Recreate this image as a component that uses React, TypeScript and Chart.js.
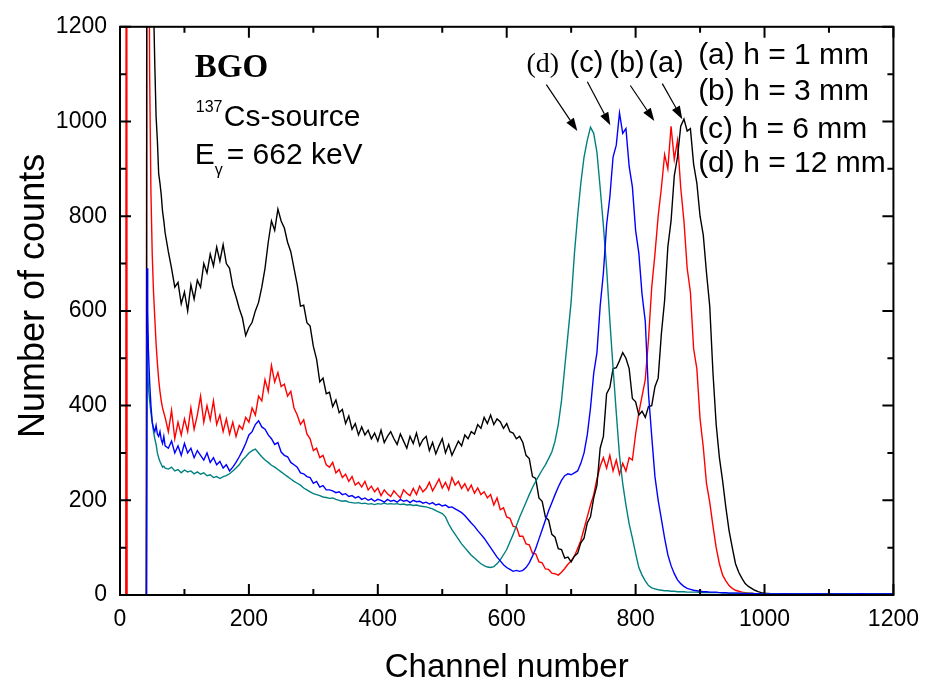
import React, { useEffect, useRef } from "react";
import { Chart, registerables } from "chart.js";

Chart.register(...registerables);

// Channel positions of the sampled points
const channels = [
  0, 5, 9, 10, 11, 15, 20, 25, 30, 35, 40, 41, 42, 43, 44, 46, 48, 50, 52, 54, 56, 58, 60, 62, 64, 66, 68, 70,
  75, 80, 85, 90, 95, 100, 105, 110, 115, 120,
  125, 130, 135, 140, 145, 150, 155, 160, 165, 170,
  175, 180, 185, 190, 195, 200, 205, 210, 215, 220,
  225, 230, 235, 240, 245, 250, 255, 260, 265, 270,
  275, 280, 285, 290, 295, 300, 305, 310, 315, 320,
  325, 330, 335, 340, 345, 350, 355, 360, 365, 370,
  375, 380, 385, 390, 395, 400, 405, 410, 415, 420,
  425, 430, 435, 440, 445, 450, 455, 460, 465, 470,
  475, 480, 485, 490, 495, 500, 505, 510, 515, 520,
  525, 530, 535, 540, 545, 550, 555, 560, 565, 570,
  575, 580, 585, 590, 595, 600, 605, 610, 615, 620,
  625, 630, 635, 640, 645, 650, 655, 660, 665, 670,
  675, 680, 685, 690, 695, 700, 705, 710, 715, 720,
  725, 730, 735, 740, 745, 750, 755, 760, 765, 770,
  775, 780, 785, 790, 795, 800, 805, 810, 815, 820,
  825, 830, 835, 840, 845, 850, 855, 860, 865, 870,
  875, 880, 885, 890, 895, 900, 905, 910, 915, 920,
  925, 930, 935, 940, 945, 950, 955, 960, 965, 970,
  975, 980, 985, 990, 995, 1000,
  1010, 1020, 1030, 1040, 1050, 1060, 1070, 1080, 1090, 1100,
  1110, 1120, 1130, 1140, 1150, 1160, 1170, 1180, 1190, 1200,
];

// (a) h = 1 mm  (black)
const countsA = [
  0, 0, 0, 0, 0, 0, 0, 0, 0, 0, 0, 0, 2500, 2500, 2500, 2500, 2500, 2500, 1250, 1120, 1010, 960, 890, 870, 845, 810, 790, 765,
  725, 690, 650, 660, 615, 640, 600, 655, 625, 665,
  650, 700, 680, 720, 695, 735, 705, 740, 700, 690,
  652, 630, 605, 585, 548, 565, 576, 600, 618, 650,
  690, 745, 790, 770, 815, 790, 775, 745, 725, 690,
  655, 610, 612, 575, 568, 525, 498, 450, 458, 425,
  428, 398, 412, 385, 392, 362, 378, 350, 362, 338,
  355, 338, 348, 330, 342, 325, 348, 322, 335, 345,
  330, 318, 340, 325, 310, 335, 320, 342, 315, 328,
  335, 305, 322, 298, 315, 330, 300, 318, 295, 310,
  325, 315, 338, 330, 345, 340, 360, 352, 375, 362,
  380, 360, 372, 366, 352, 362, 345, 342, 330, 335,
  322, 295, 288, 250, 246, 205, 198, 165, 158, 128,
  122, 98, 96, 78, 80, 70, 82, 88, 110, 120,
  152, 165, 205, 232, 310, 335, 425, 438, 478, 480,
  495, 512, 500, 478, 415, 408, 380, 388, 375, 398,
  400, 440, 458, 552, 622, 735, 790, 885, 925, 990,
  1005, 980, 985, 910, 870, 800, 760, 680, 610, 470,
  360, 290, 241, 185, 136, 100, 66, 48, 35, 24,
  18, 14, 10, 7, 5, 4,
  3, 3, 2, 3, 2, 2, 3, 2, 2, 2, 3, 2, 2, 2, 2, 3, 2, 2, 2, 2,
];

// (b) h = 3 mm  (red)
const countsB = [
  0, 0, 0, 3000, 0, 0, 0, 0, 0, 0, 0, 0, 3000, 2000, 1700, 1100, 850, 720, 640, 585, 530, 490, 455, 430, 410, 395, 385, 375,
  345, 390, 330, 365, 338, 372, 345, 395, 350, 380,
  420, 365, 400, 370, 410, 360, 380, 345, 372, 340,
  365, 335, 358, 350, 375, 365, 395, 380, 420, 410,
  455, 430, 485, 450, 470, 440, 445, 420, 430, 395,
  380, 360, 370, 340, 330, 305, 310, 290, 295, 275,
  270, 280, 258, 265, 248, 255, 240, 250, 232, 238,
  228, 240, 222, 230, 218, 226, 210, 222, 214, 208,
  220, 212, 205, 222, 215, 210, 225, 212, 230, 218,
  225, 238, 220, 232, 245, 226, 238, 222, 248, 232,
  240, 225, 235, 220, 232, 215, 226, 212, 218, 205,
  212, 190, 205, 180, 184, 165, 162, 145, 144, 124,
  124, 108, 106, 88, 87, 70, 68, 55, 54, 46,
  45, 42, 48, 56, 65, 72, 82, 98, 115, 140,
  165, 190, 212, 245, 272, 290, 268, 295, 262, 285,
  255, 278, 262, 290, 285, 340, 385, 420, 455, 540,
  650, 720, 800, 860, 930, 900, 990, 920, 960, 860,
  790, 690, 640, 520, 478, 372, 312, 235, 196, 146,
  100, 66, 42, 30, 20, 14, 10, 8, 6, 5,
  4, 4, 3, 3, 3, 2,
  2, 3, 2, 2, 3, 2, 2, 2, 3, 2, 2, 2, 2, 3, 2, 2, 2, 2, 2, 2,
];

// (c) h = 6 mm  (blue)
const countsC = [
  0, 0, 0, 0, 0, 0, 0, 0, 0, 0, 0, 0, 690, 600, 520, 450, 400, 365, 352, 345, 358, 340, 335, 345, 328, 320, 335, 315,
  310, 325, 300, 315, 295, 320, 300, 310, 290, 305,
  295, 285, 300, 280, 290, 275, 282, 268, 275, 262,
  270, 280, 292, 305, 320, 338, 345, 360, 368, 355,
  350, 338, 330, 318, 322, 302, 295, 292, 280, 275,
  270, 258, 256, 250, 248, 236, 240, 228, 231, 222,
  222, 220, 216, 218, 212, 214, 208, 210, 205, 208,
  202, 205, 200, 203, 198, 202, 200, 196, 202, 198,
  200, 196, 202, 198, 200, 195, 200, 197, 198, 194,
  196, 192, 195, 190, 192, 188, 190, 185, 186, 182,
  178, 174, 168, 160, 152, 145, 136, 128, 120, 110,
  100, 90, 80, 72, 64, 58, 54, 50, 52, 50,
  52, 58, 68, 82, 98, 118, 138, 158, 178, 195,
  212, 228, 242, 252, 256, 254, 258, 262, 278, 300,
  338, 395, 468, 512, 610, 680, 782, 840, 925, 950,
  1018, 975, 985, 905, 862, 770, 722, 635, 578, 425,
  335, 250, 200, 160, 120, 85, 62, 45, 32, 24,
  18, 14, 12, 10, 9, 8, 7, 7, 6, 6,
  6, 5, 5, 5, 4, 4, 4, 4, 3, 3,
  3, 3, 3, 3, 2, 2,
  2, 2, 3, 2, 2, 2, 2, 3, 2, 2, 2, 2, 2, 2, 3, 2, 2, 2, 2, 2,
];

// (d) h = 12 mm  (teal)
const countsD = [
  0, 0, 0, 0, 0, 0, 0, 0, 0, 0, 0, 0, 550, 480, 440, 410, 385, 365, 345, 330, 318, 300, 290, 282, 276, 270, 272, 268,
  266, 270, 262, 265, 258, 264, 260, 262, 256, 260,
  255, 258, 252, 254, 248, 250, 246, 250, 252, 256,
  262, 268, 275, 285, 292, 300, 305, 308, 300, 292,
  285, 280, 274, 270, 265, 260, 255, 250, 245, 240,
  236, 232, 226, 222, 218, 214, 212, 210, 207, 206,
  204, 205, 202, 200, 198, 199, 196, 195, 194, 195,
  193, 194, 192, 193, 191, 193, 192, 194, 192, 193,
  192, 193, 191, 192, 190, 191, 189, 190, 188, 187,
  186, 184, 182, 178, 175, 172, 165, 150, 138, 128,
  118, 108, 100, 92, 84, 78, 72, 66, 62, 59,
  58, 60, 66, 74, 85, 96, 112, 128, 146, 164,
  180, 196, 212, 227, 240, 252, 264, 275, 288, 302,
  325, 360, 410, 480, 550, 620, 720, 800, 870, 925,
  960, 988, 975, 935, 860, 780, 690, 580, 480, 385,
  295, 235, 190, 150, 120, 88, 58, 42, 30, 20,
  15, 13, 11, 10, 9, 9, 8, 8, 7, 7,
  7, 6, 6, 6, 6, 5, 5, 5, 5, 5,
  5, 5, 4, 4, 4, 4, 4, 4, 4, 4,
  4, 4, 3, 3, 3, 3,
  3, 3, 3, 2, 3, 3, 2, 3, 3, 2, 3, 2, 3, 3, 2, 3, 2, 3, 2, 2,
];

const majorTicks = [0, 200, 400, 600, 800, 1000, 1200];
const minorTicks = [100, 300, 500, 700, 900, 1100];

const legendLines = ["(a) h = 1 mm", "(b) h = 3 mm", "(c) h = 6 mm", "(d) h = 12 mm"];
const legendBaselines = [1122, 1045, 965, 894];

const arrowLabels = ["(d)", "(c)", "(b)", "(a)"];
const arrowLabelX = [630.7, 697.4, 759.2, 819.7];
const arrowTail = [
  [661.5, 1078],
  [725.1, 1084],
  [791.8, 1076],
  [841.4, 1080],
];
const arrowTip = [
  [709.6, 980],
  [760.8, 992],
  [829, 1001],
  [872.4, 1005],
];

const SANS = "'Liberation Sans', Arial, Helvetica, sans-serif";
const SERIF = "'Liberation Serif', 'Times New Roman', serif";

function drawText(
  ctx: CanvasRenderingContext2D,
  text: string,
  x: number,
  y: number,
  font: string,
  align: CanvasTextAlign = "left"
) {
  ctx.save();
  ctx.font = font;
  ctx.textAlign = align;
  ctx.textBaseline = "alphabetic";
  ctx.fillStyle = "#000";
  ctx.fillText(text, x, y);
  ctx.restore();
}

export default function App() {
  const ref = useRef<HTMLCanvasElement>(null);

  useEffect(() => {
    const canvas = ref.current;
    if (!canvas) return;
    const mk = (vals: number[]) => channels.map((c, i) => ({ x: c, y: vals[i] }));

    const framePlugin = {
      id: "framePlugin",
      afterDraw(chart: any) {
        const { ctx, chartArea: a, scales } = chart;
        const xs = scales.x;
        const ys = scales.y;
        const X = (v: number) => xs.getPixelForValue(v);
        const Y = (v: number) => ys.getPixelForValue(v);
        ctx.save();
        ctx.strokeStyle = "#000";
        ctx.lineWidth = 2;
        ctx.strokeRect(a.left, a.top, a.right - a.left, a.bottom - a.top);
        const tick = (vals: number[], len: number) => {
          ctx.beginPath();
          vals.forEach((v) => {
            const px = X(v);
            ctx.moveTo(px, a.bottom);
            ctx.lineTo(px, a.bottom - len);
            ctx.moveTo(px, a.top);
            ctx.lineTo(px, a.top + len);
            const py = Y(v);
            ctx.moveTo(a.left, py);
            ctx.lineTo(a.left + len, py);
            ctx.moveTo(a.right, py);
            ctx.lineTo(a.right - len, py);
          });
          ctx.stroke();
        };
        tick(majorTicks, 11);
        tick(minorTicks, 6);

        // Axis titles
        drawText(ctx, "Channel number", (a.left + a.right) / 2, a.bottom + 82, `33px ${SANS}`, "center");
        ctx.save();
        ctx.translate(a.left - 76, (a.top + a.bottom) / 2 - 15);
        ctx.rotate(-Math.PI / 2);
        drawText(ctx, "Number of counts", 0, 0, `36px ${SANS}`, "center");
        ctx.restore();

        // Inner annotations
        drawText(ctx, "BGO", X(116), Y(1095), `bold 33px ${SERIF}`);
        drawText(ctx, "137", X(117.5), Y(1020), `16px ${SANS}`);
        drawText(ctx, "Cs-source", X(161), Y(990), `30px ${SANS}`);
        drawText(ctx, "E", X(116), Y(910), `30px ${SANS}`);
        drawText(ctx, "γ", X(147), Y(887), `16px ${SANS}`);
        drawText(ctx, "= 662 keV", X(165.5), Y(910), `30px ${SANS}`);

        legendLines.forEach((t, i) => {
          drawText(ctx, t, X(897), Y(legendBaselines[i]), `30px ${SANS}`);
        });

        arrowLabels.forEach((t, i) => {
          if (i === 0) drawText(ctx, t, X(arrowLabelX[i]), Y(1104), `28px ${SERIF}`);
          else drawText(ctx, t, X(arrowLabelX[i]), Y(1104), `29px ${SANS}`);
          const x0 = X(arrowTail[i][0]);
          const y0 = Y(arrowTail[i][1]);
          const x1 = X(arrowTip[i][0]);
          const y1 = Y(arrowTip[i][1]);
          const ang = Math.atan2(y1 - y0, x1 - x0);
          const hl = 13;
          const hw = 4.5;
          const bx = x1 - hl * Math.cos(ang);
          const by = y1 - hl * Math.sin(ang);
          ctx.strokeStyle = "#000";
          ctx.lineWidth = 1.2;
          ctx.beginPath();
          ctx.moveTo(x0, y0);
          ctx.lineTo(bx, by);
          ctx.stroke();
          ctx.fillStyle = "#000";
          ctx.beginPath();
          ctx.moveTo(x1, y1);
          ctx.lineTo(bx + hw * Math.sin(ang), by - hw * Math.cos(ang));
          ctx.lineTo(bx - hw * Math.sin(ang), by + hw * Math.cos(ang));
          ctx.closePath();
          ctx.fill();
        });
        ctx.restore();
      },
    };

    const tickFont = { family: SANS, size: 23 };
    const plain = (v: any) => String(v);
    const chart = new Chart(canvas, {
      type: "line",
      data: {
        datasets: [
          { label: "(a) h = 1 mm", data: mk(countsA), borderColor: "#000000", borderWidth: 1.4, pointRadius: 0, order: 3 },
          { label: "(b) h = 3 mm", data: mk(countsB), borderColor: "#ff0000", borderWidth: 1.4, pointRadius: 0, order: 4 },
          { label: "(c) h = 6 mm", data: mk(countsC), borderColor: "#0000ff", borderWidth: 1.4, pointRadius: 0, order: 1 },
          { label: "(d) h = 12 mm", data: mk(countsD), borderColor: "#008080", borderWidth: 1.4, pointRadius: 0, order: 2 },
        ],
      },
      options: {
        responsive: false,
        animation: false,
        devicePixelRatio: 1,
        layout: { padding: { left: 0, top: 22, right: 36, bottom: 0 } },
        elements: { line: { tension: 0 } },
        plugins: { legend: { display: false }, tooltip: { enabled: false } },
        scales: {
          x: {
            type: "linear",
            min: 0,
            max: 1200,
            afterFit: (s: any) => {
              s.height = 93;
            },
            grid: { display: false, drawTicks: false },
            border: { display: false },
            ticks: { stepSize: 200, padding: 11, color: "#000", font: tickFont, maxRotation: 0, autoSkip: false, callback: plain },
          },
          y: {
            type: "linear",
            min: 0,
            max: 1200,
            afterFit: (s: any) => {
              s.width = 120;
            },
            grid: { display: false, drawTicks: false },
            border: { display: false },
            ticks: { stepSize: 200, padding: 13, color: "#000", font: tickFont, callback: plain },
          },
        },
      },
      plugins: [framePlugin],
    } as any);
    return () => chart.destroy();
  }, []);

  return (
    <div style={{ position: "absolute", left: 0, top: 0, width: 930, height: 688, background: "#fff" }}>
      <canvas ref={ref} width={930} height={688} style={{ display: "block" }} />
    </div>
  );
}
